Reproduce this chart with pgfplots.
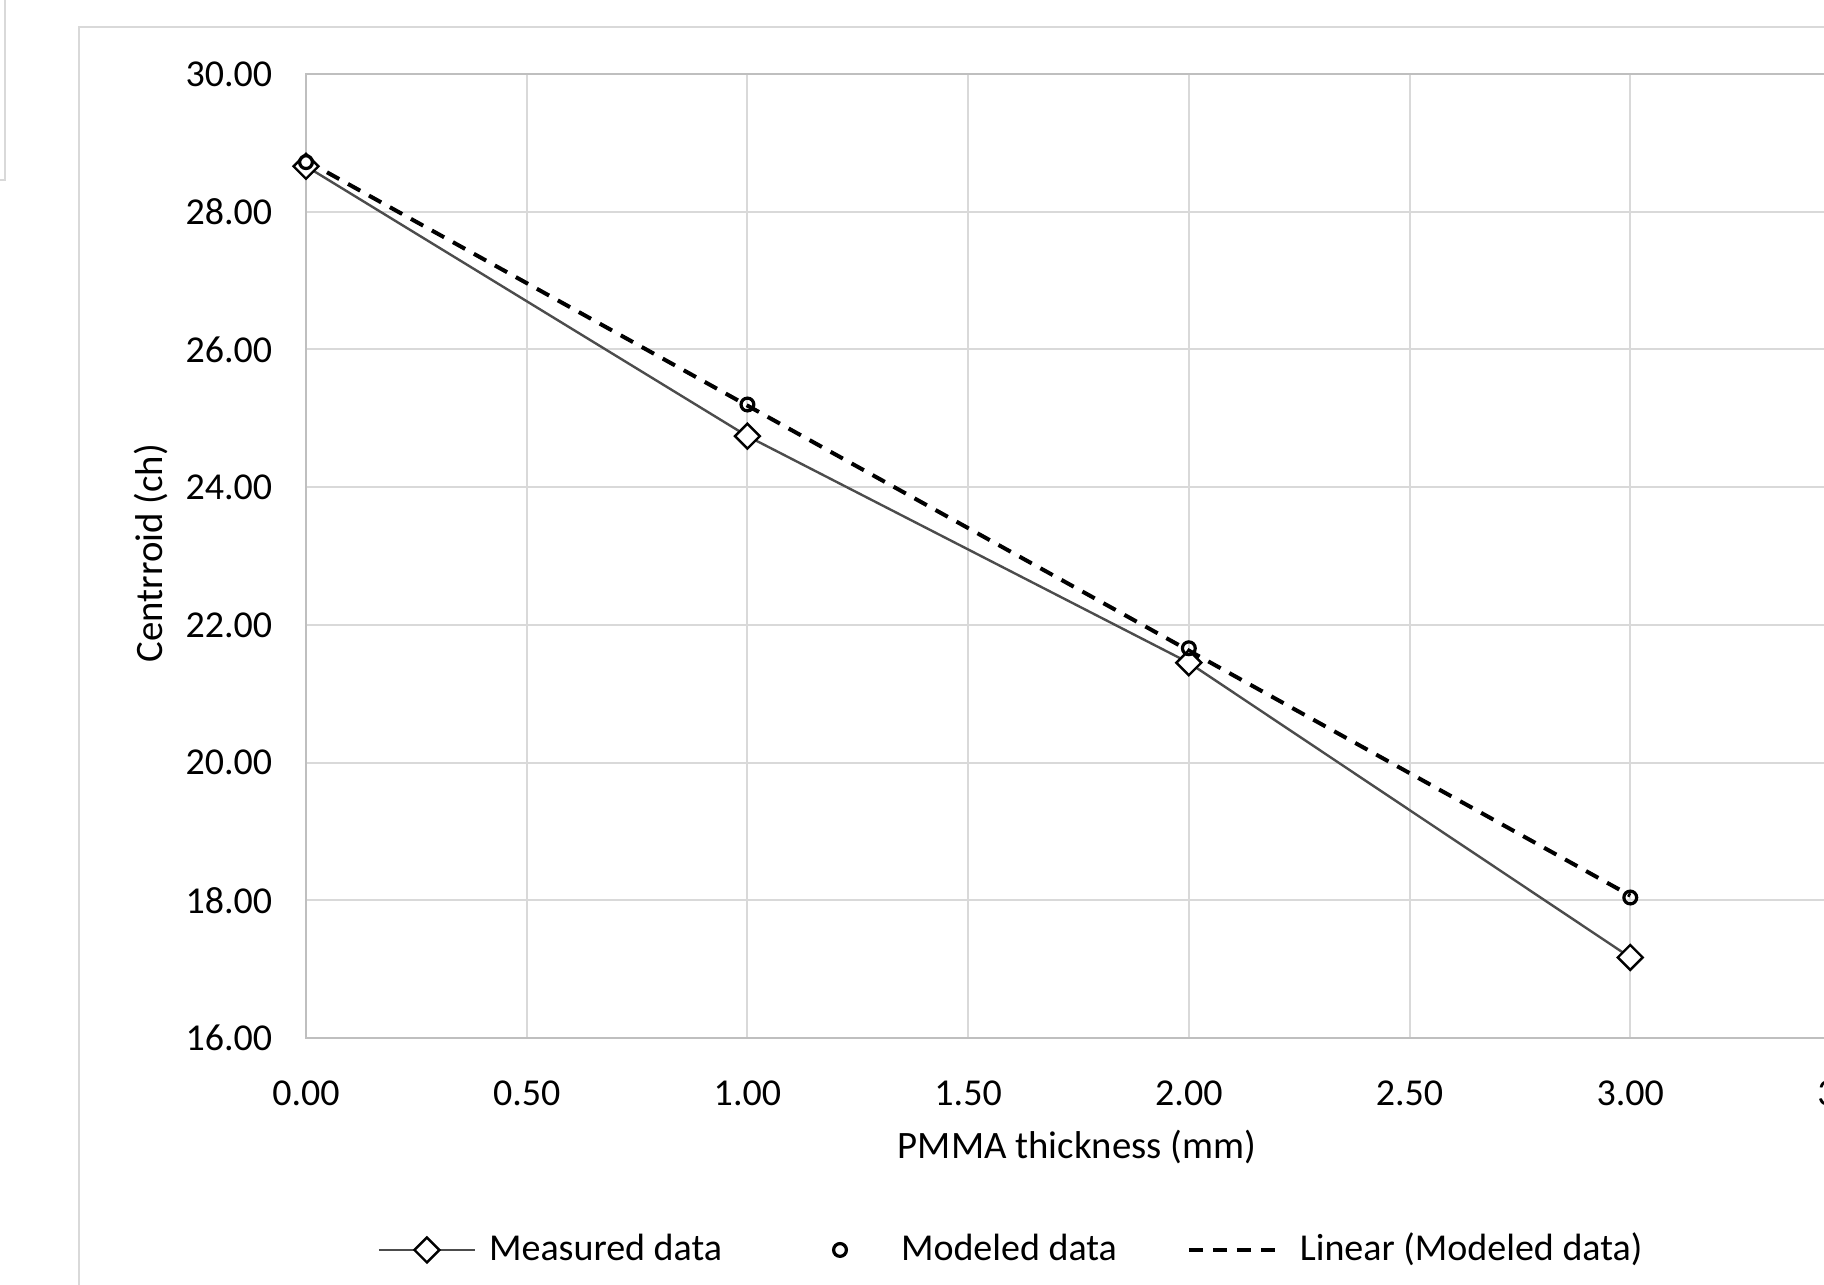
\documentclass[border=0pt]{standalone}
\usepackage{fontspec}
\setmainfont{Carlito}
\usepackage{pgfplots}
\usepackage{pgfplotstable}
\pgfplotsset{compat=1.18}
\pgfplotsset{
  widelegend/.style={legend image code/.code={\path[draw=none, fill=none] (0pt,0pt) (24pt,0pt); \draw[##1, mark repeat=2, mark phase=2] plot coordinates {(0pt,0pt) (12pt,0pt) (24pt,0pt)};}},
  widelegendline/.style={legend image code/.code={\draw[##1] (0pt,0pt) -- (24pt,0pt);}},
}

\pgfplotstableread{
x y
0 28.66
1 24.74
2 21.45
3 17.17
}\measured
\pgfplotstableread{
x y
0 28.72
1 25.20
2 21.66
3 18.04
}\modeled

\begin{document}
\begin{tikzpicture}
\useasboundingbox (0,0) rectangle (456pt,321.25pt);
\clip (0,0) rectangle (456pt,321.25pt);
\draw[black!15, line width=0.5pt] (19.75pt,-2pt) -- (19.75pt,314.5pt) -- (460pt,314.5pt);
\draw[black!15, line width=0.5pt] (-1pt,276.25pt) -- (1.25pt,276.25pt) -- (1.25pt,325pt);
\begin{axis}[
  at={(76.5pt,61.75pt)}, anchor=south west,
  scale only axis, width=386.25pt, height=241pt,
  xmin=0, xmax=3.5, ymin=16, ymax=30,
  xtick distance=0.5, ytick distance=2,
  major tick length=0pt,
  grid=major, major grid style={black!15, line width=0.5pt},
  axis line style={black!25, line width=0.5pt},
  /pgf/number format/assume math mode=true,
  /pgf/number format/fixed,
  /pgf/number format/fixed zerofill,
  /pgf/number format/precision=2,
  ticklabel style={font=\fontsize{9.5}{11}\selectfont},
  xticklabel style={anchor=north, inner sep=0pt, yshift=-10.5pt},
  yticklabel style={anchor=east, inner sep=0pt, xshift=-8.25pt},
  xlabel={PMMA thickness (mm)},
  xlabel style={at={(axis description cs:0.499,-0.113)}, anchor=center, font=\fontsize{9.7}{11}\selectfont},
  ylabel={Centrroid (ch)},
  ylabel style={at={(axis description cs:-0.1003,0.503)}, anchor=center, font=\fontsize{9.7}{11}\selectfont},
  legend columns=3,
  legend style={at={(axis description cs:0.4557,-0.2199)}, anchor=center, draw=none, fill=none,
    font=\fontsize{9.5}{11}\selectfont,
    nodes={inner sep=0pt, text depth=0.15em},
    /tikz/every odd column/.append style={column sep=3.25pt},
    /tikz/every even column/.append style={column sep=17.5pt}},
  legend cell align=left,
]
\addplot[color=black!70, line width=0.6pt, mark=square*, mark size=2.2pt,
  mark options={rotate=45, fill=white, draw=black, line width=0.6pt, solid}, widelegend]
  table[x=x, y=y] {\measured};
\addlegendentry{Measured data}
\addplot[only marks, mark=o, mark size=1.6pt, mark options={draw=black, line width=0.8pt}, widelegend]
  table[x=x, y=y] {\modeled};
\addlegendentry{Modeled data}
\addplot[black, line width=1pt, dash pattern=on 3.5pt off 2.5pt, no marks, widelegendline]
  table[x=x, y={create col/linear regression={y=y}}] {\modeled};
\addlegendentry{Linear (Modeled data)}
\end{axis}
\end{tikzpicture}
\end{document}
